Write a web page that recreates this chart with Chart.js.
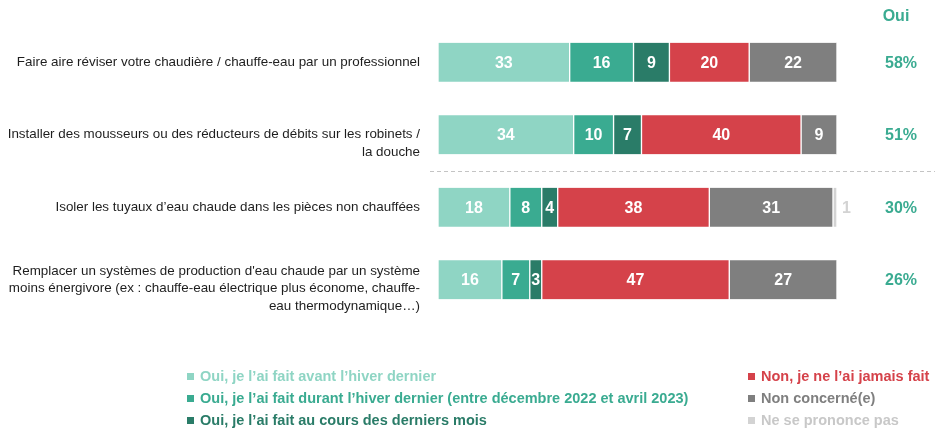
<!DOCTYPE html>
<html lang="fr">
<head>
<meta charset="utf-8">
<script src="https://cdn.jsdelivr.net/npm/chart.js@4.4.1/dist/chart.umd.min.js"></script>
<style>
    html, body { margin: 0; padding: 0; background: #fff; }
    body { width: 935px; height: 430px; position: relative; overflow: hidden; font-family: "Liberation Sans", Arial, sans-serif; }
    #graf { position: absolute; left: 0; top: 0; }
    .leg { position: absolute; font-weight: bold; font-size: 14.5px; line-height: 18px; white-space: nowrap; }
    .leg span { display: inline-block; width: 7px; height: 7px; margin-right: 6px; vertical-align: 1px; }
</style>
</head>
<body>
<canvas id="graf" width="935" height="430"></canvas>
<div id="legende"></div>
<script>
// Actions (libellés de l'axe)
const actions = [
    ['Faire aire réviser votre chaudière / chauffe-eau par un professionnel'],
    ['Installer des mousseurs ou des réducteurs de débits sur les robinets /', 'la douche'],
    ['Isoler les tuyaux d’eau chaude dans les pièces non chauffées'],
    ['Remplacer un systèmes de production d\'eau chaude par un système', 'moins énergivore (ex : chauffe-eau électrique plus économe, chauffe-', 'eau thermodynamique…)']
];

// Réponses (%)
const avantHiver   = [33, 34, 18, 16];
const durantHiver  = [16, 10, 8, 7];
const derniersMois = [9, 7, 4, 3];
const jamaisFait   = [20, 40, 38, 47];
const nonConcerne  = [22, 9, 31, 27];
const nsp          = [0, 0, 1, 0];

const series = [
    { nom: 'Oui, je l’ai fait avant l’hiver dernier', valeurs: avantHiver, couleur: '#8fd5c4' },
    { nom: 'Oui, je l’ai fait durant l’hiver dernier (entre décembre 2022 et avril 2023)', valeurs: durantHiver, couleur: '#3aab91' },
    { nom: 'Oui, je l’ai fait au cours des derniers mois', valeurs: derniersMois, couleur: '#2a7c68' },
    { nom: 'Non, je ne l’ai jamais fait', valeurs: jamaisFait, couleur: '#d5424a' },
    { nom: 'Non concerné(e)', valeurs: nonConcerne, couleur: '#7f7f7f' },
    { nom: 'Ne se prononce pas', valeurs: nsp, couleur: '#d3d3d3' }
];

const police = '"Liberation Sans", Arial, sans-serif';

// Etiquettes sur les barres + colonne "Oui" + séparateur
const etiquettes = {
    id: 'etiquettes',
    afterDatasetsDraw(chart) {
        const ctx = chart.ctx;
        const area = chart.chartArea;
        ctx.save();
        ctx.font = 'bold 16px ' + police;
        ctx.textBaseline = 'middle';
        chart.data.datasets.forEach((ds, i) => {
            const meta = chart.getDatasetMeta(i);
            meta.data.forEach((bar, j) => {
                const v = ds.data[j];
                if (!v) return;
                if (v < 2) {
                    ctx.fillStyle = ds.backgroundColor;
                    ctx.textAlign = 'left';
                    ctx.fillText(v, bar.x + 5, bar.y + 1);
                } else {
                    ctx.fillStyle = '#fff';
                    ctx.textAlign = 'center';
                    ctx.fillText(v, (bar.x + bar.base) / 2, bar.y + 1);
                }
            });
        });

        // total des "Oui"
        const yScale = chart.scales.y;
        ctx.fillStyle = '#3aab91';
        ctx.textAlign = 'center';
        ctx.fillText('Oui', area.right + 59, 17);
        actions.forEach((a, j) => {
            const oui = avantHiver[j] + durantHiver[j] + derniersMois[j];
            ctx.fillText(oui + '%', area.right + 64, yScale.getPixelForValue(j) + 1);
        });

        // ligne pointillée entre les 2e et 3e actions
        const ySep = Math.round(yScale.getPixelForValue(1.5)) + 0.5;
        ctx.strokeStyle = '#c4c4c4';
        ctx.lineWidth = 1;
        ctx.setLineDash([4, 3]);
        ctx.beginPath();
        ctx.moveTo(430, ySep);
        ctx.lineTo(935, ySep);
        ctx.stroke();
        ctx.restore();
    }
};

const graf = new Chart(document.getElementById('graf'), {
    type: 'bar',
    data: {
        labels: actions,
        datasets: series.map(s => ({
            label: s.nom,
            data: s.valeurs,
            backgroundColor: s.couleur,
            borderColor: '#fff',
            borderWidth: { left: 1, right: 1, top: 0, bottom: 0 },
            borderSkipped: false,
            barThickness: 39
        }))
    },
    options: {
        indexAxis: 'y',
        responsive: false,
        animation: false,
        layout: { padding: { top: 26, right: 98, bottom: 114, left: 0 } },
        plugins: {
            legend: { display: false },
            tooltip: { enabled: false }
        },
        scales: {
            x: { stacked: true, min: 0, max: 100, display: false },
            y: {
                stacked: true,
                grid: { display: false, drawTicks: false },
                border: { display: false },
                afterFit: function (scale) {
                    scale.width = 438;
                    scale.paddingTop = 0;
                    scale.paddingBottom = 0;
                },
                ticks: {
                    autoSkip: false,
                    color: '#1e1e1e',
                    padding: 18,
                    font: { family: police, size: 13.4, lineHeight: 1.33 },
                    // les libellés sur plusieurs lignes sont un peu plus bas que le centre de la barre
                    callback: function (value) {
                        const lignes = this.getLabelForValue(value);
                        return lignes.length > 1 ? [''].concat(lignes) : lignes;
                    }
                }
            }
        }
    },
    plugins: [etiquettes]
});

// Légende en deux colonnes
const legende = document.getElementById('legende');
const couleursTexte = ['#8fd5c4', '#3aab91', '#2a7c68', '#d5424a', '#7f7f7f', '#c8c8c8'];
series.forEach((s, i) => {
    const d = document.createElement('div');
    d.className = 'leg';
    d.style.left = (i < 3 ? 187 : 748) + 'px';
    d.style.top = (367 + (i % 3) * 22) + 'px';
    d.style.color = couleursTexte[i];
    d.innerHTML = '<span style="background:' + s.couleur + '"></span>' + s.nom;
    legende.appendChild(d);
});
</script>
</body>
</html>
